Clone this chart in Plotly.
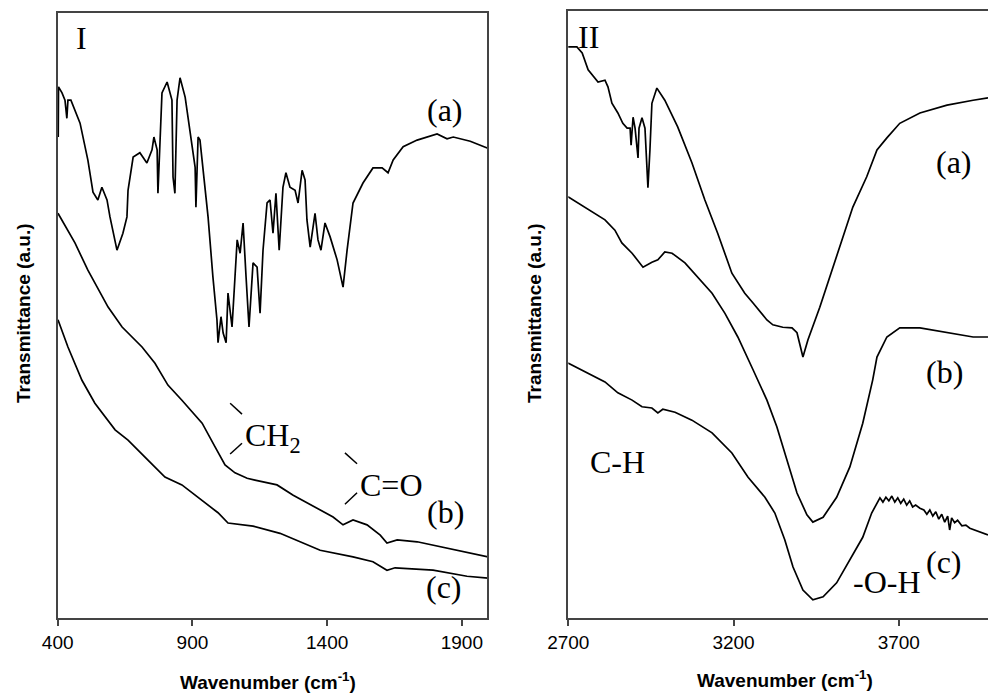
import plotly.graph_objects as go

# ---------------- Panel I (400-2000 cm-1) ----------------
wn_1a = [402, 403, 416, 427, 434, 438, 449, 483, 512, 531, 549, 564, 583, 594, 620, 642, 657, 661,
         680, 705, 731, 750, 757, 769, 772, 787, 806, 824, 828, 835, 843, 854, 873, 891, 910, 913,
         921, 928, 939, 958, 976, 991, 995, 1006, 1014, 1025, 1032, 1047, 1058, 1066, 1077, 1088,
         1099, 1110, 1125, 1140, 1151, 1162, 1177, 1188, 1199, 1210, 1222, 1236, 1247, 1262, 1281,
         1292, 1307, 1318, 1325, 1337, 1355, 1366, 1377, 1392, 1411, 1437, 1459, 1474, 1496, 1533,
         1570, 1604, 1626, 1645, 1682, 1734, 1808, 1845, 1868, 1931, 1994]
t_1a = [79.5, 87.8, 86.8, 85.6, 82.6, 85.6, 85.6, 81.8, 75.7, 70.4, 69.1, 71.2, 69.1, 66.3, 60.8, 63.6,
        66.3, 70.7, 76.2, 76.9, 75.2, 77.4, 79.5, 77.4, 70.2, 86.8, 88.6, 85.6, 72.9, 70.2, 85.6, 89.3,
        86.1, 80.2, 74.5, 67.9, 79.5, 79.0, 74.5, 66.3, 56.4, 49.3, 45.5, 49.8, 47.1, 45.5, 53.7, 48.1,
        56.4, 62.5, 60.3, 65.3, 56.4, 48.1, 58.7, 58.0, 50.4, 60.8, 68.6, 69.1, 63.6, 70.2, 60.8, 71.2,
        73.6, 71.2, 70.7, 68.6, 74.0, 72.4, 65.8, 61.3, 66.9, 62.5, 60.8, 65.3, 63.0, 59.2, 54.7, 60.8,
        68.6, 71.9, 74.4, 74.4, 73.6, 75.7, 77.9, 79.0, 80.0, 79.2, 79.5, 78.8, 77.7]

wn_1b = [401, 464, 512, 587, 639, 713, 761, 809, 861, 936, 984, 1021, 1058, 1103, 1132, 1214, 1274,
         1374, 1422, 1459, 1496, 1548, 1597, 1622, 1660, 1734, 1830, 1942, 1997]
t_1b = [66.9, 62.0, 57.5, 51.4, 48.1, 44.8, 42.1, 38.5, 36.0, 32.2, 28.3, 25.3, 24.0, 23.1, 22.8, 22.0,
        20.3, 17.9, 16.7, 15.4, 16.2, 15.4, 13.7, 12.4, 12.9, 12.6, 11.7, 10.7, 10.1]

wn_1c = [401, 438, 490, 538, 613, 661, 735, 798, 861, 936, 995, 1032, 1125, 1225, 1374, 1496, 1570,
         1622, 1652, 1793, 1919, 1997]
t_1c = [49.3, 44.8, 39.3, 35.5, 31.1, 29.4, 26.1, 23.3, 22.0, 19.5, 17.4, 15.7, 15.2, 14.0, 11.2, 10.1,
        9.3, 7.9, 8.3, 7.9, 6.9, 6.6]

# ---------------- Panel II (2700-4000 cm-1) ----------------
wn_2a = [2699, 2726, 2742, 2760, 2790, 2811, 2820, 2832, 2850, 2865, 2878, 2887, 2890, 2893, 2896, 2902,
         2911, 2914, 2923, 2932, 2938, 2941, 2947, 2953, 2968, 2992, 3031, 3074, 3113, 3152, 3195, 3234,
         3259, 3301, 3319, 3349, 3377, 3392, 3410, 3425, 3461, 3512, 3561, 3603, 3634, 3664, 3703, 3764,
         3846, 3925, 3970]
t_2a = [94.1, 94.1, 93.1, 90.3, 88.3, 88.6, 87.5, 84.8, 83.2, 81.5, 80.7, 80.7, 77.9, 80.7, 82.5, 80.7,
        75.8, 80.7, 82.4, 80.7, 73.8, 70.9, 77.1, 84.8, 87.3, 85.3, 80.9, 75.0, 68.9, 63.4, 56.8, 53.5,
        51.9, 49.1, 48.3, 47.9, 47.8, 47.0, 43.0, 45.8, 51.2, 59.5, 67.7, 72.7, 77.1, 79.1, 81.5, 83.2,
        84.5, 85.3, 85.7]

wn_2b = [2699, 2751, 2811, 2841, 2862, 2893, 2926, 2953, 2971, 2992, 3014, 3053, 3092, 3135, 3174, 3213,
         3259, 3301, 3331, 3361, 3392, 3422, 3440, 3471, 3512, 3552, 3591, 3621, 3634, 3664, 3703, 3764,
         3846, 3925, 3970]
t_2b = [69.4, 67.7, 65.6, 63.9, 61.8, 60.1, 57.8, 58.6, 59.0, 60.3, 60.1, 58.5, 56.2, 53.5, 50.2, 46.3,
        40.9, 35.9, 31.5, 26.0, 20.6, 17.0, 15.8, 16.6, 19.9, 24.9, 32.1, 39.2, 43.0, 46.3, 47.8, 47.8,
        47.0, 46.3, 46.3]

wn_2c = [2699, 2751, 2811, 2850, 2893, 2923, 2953, 2971, 2986, 3023, 3074, 3135, 3195, 3244, 3295, 3325,
         3355, 3380, 3410, 3440, 3471, 3512, 3552, 3591, 3618, 3634, 3643, 3652, 3661, 3670, 3679, 3688,
         3697, 3706, 3715, 3724, 3733, 3742, 3751, 3764, 3776, 3785, 3794, 3803, 3812, 3821, 3830, 3839,
         3848, 3854, 3860, 3869, 3878, 3891, 3903, 3915, 3939, 3970]
t_2c = [42.0, 40.5, 38.9, 37.1, 35.9, 34.8, 34.6, 33.8, 34.4, 33.9, 32.6, 30.5, 27.2, 23.2, 19.9, 17.3,
        12.9, 8.4, 4.6, 3.0, 3.5, 5.8, 9.6, 13.3, 17.3, 18.9, 19.8, 19.1, 19.9, 19.3, 20.1, 19.1,
        19.8, 18.9, 19.6, 18.6, 19.3, 18.3, 18.6, 18.1, 17.8, 17.1, 17.8, 16.8, 17.5, 16.3, 17.1, 15.8,
        16.8, 14.5, 16.5, 15.7, 16.1, 15.2, 15.3, 14.8, 14.3, 13.7]

ticks_1 = [400, 900, 1400, 1900]
ticks_2 = [2700, 3200, 3700]

LINE = dict(color="black", width=1.7)
fig = go.Figure()
for xs, ys in [(wn_1a, t_1a), (wn_1b, t_1b), (wn_1c, t_1c)]:
    fig.add_trace(go.Scatter(x=xs, y=ys, mode="lines", line=LINE, xaxis="x", yaxis="y",
                             showlegend=False, hoverinfo="skip"))
for xs, ys in [(wn_2a, t_2a), (wn_2b, t_2b), (wn_2c, t_2c)]:
    fig.add_trace(go.Scatter(x=xs, y=ys, mode="lines", line=LINE, xaxis="x2", yaxis="y2",
                             showlegend=False, hoverinfo="skip"))

AX = "#444444"
TICKFONT = dict(family="Liberation Sans, Arial", size=19, color="black")
common_x = dict(showline=True, linecolor=AX, linewidth=1.5, ticks="outside", ticklen=6,
                tickcolor=AX, tickwidth=1.5, showgrid=False, zeroline=False, tickfont=TICKFONT)
common_y = dict(showline=True, linecolor=AX, linewidth=1.5, ticks="", showticklabels=False,
                showgrid=False, zeroline=False)

fig.update_layout(
    width=988, height=693, margin=dict(l=0, r=0, t=0, b=0, autoexpand=False),
    paper_bgcolor="white", plot_bgcolor="white",
    xaxis=dict(domain=[0.0584, 0.4934], range=[400, 1995], tickvals=ticks_1, mirror=True,
               anchor="y", **common_x),
    yaxis=dict(domain=[0.1082, 0.9812], range=[0, 100], mirror=True, anchor="x", **common_y),
    xaxis2=dict(domain=[0.5752, 1.0], range=[2700, 3970], tickvals=ticks_2, mirror=True,
                anchor="y2", **common_x),
    yaxis2=dict(domain=[0.1082, 0.9841], range=[0, 100], anchor="x2", **common_y),
)

SERIF = dict(family="Liberation Serif, Times New Roman", size=32, color="black")
labels_1 = [("I", 490, 95.9, "center"), ("(a)", 1838, 84.0, "center"),
            ("CH<sub>2</sub>", 1088, 29.9, "left"), ("C=O", 1515, 22.0, "left"),
            ("(b)", 1838, 17.5, "center"), ("(c)", 1834, 5.1, "center")]
labels_2 = [("II", 2760, 95.7, "center"), ("(a)", 3867, 75.1, "center"),
            ("(b)", 3839, 40.5, "center"), ("(c)", 3836, 9.2, "center"),
            ("C-H", 2850, 25.7, "center"), ("-O-H", 3664, 5.9, "center")]
for txt, x, y, anc in labels_1:
    fig.add_annotation(text=txt, x=x, y=y, xref="x", yref="y", showarrow=False,
                       xanchor=anc, yanchor="middle", font=SERIF)
for txt, x, y, anc in labels_2:
    fig.add_annotation(text=txt, x=x, y=y, xref="x2", yref="y2", showarrow=False,
                       xanchor=anc, yanchor="middle", font=SERIF)

# little bracket marks next to the band labels
for x0, y0, x1, y1 in [(1040, 35.5, 1084, 33.7), (1040, 27.1, 1084, 28.9),
                       (1466, 27.3, 1511, 25.5), (1466, 18.8, 1511, 20.7)]:
    fig.add_shape(type="line", x0=x0, y0=y0, x1=x1, y1=y1, xref="x", yref="y",
                  line=dict(color="black", width=1.5))

TITLE = dict(family="Liberation Sans, Arial", size=19, color="black")
fig.add_annotation(text="<b>Wavenumber (cm<sup>-1</sup>)</b>", x=268/988, y=1 - 681/693,
                   xref="paper", yref="paper", showarrow=False, font=TITLE,
                   xanchor="center", yanchor="middle")
fig.add_annotation(text="<b>Wavenumber (cm<sup>-1</sup>)</b>", x=785/988, y=1 - 679/693,
                   xref="paper", yref="paper", showarrow=False, font=TITLE,
                   xanchor="center", yanchor="middle")
fig.add_annotation(text="<b>Transmittance (a.u.)</b>", x=23/988, y=1 - 313/693,
                   xref="paper", yref="paper", showarrow=False, font=TITLE, textangle=-90,
                   xanchor="center", yanchor="middle")
fig.add_annotation(text="<b>Transmittance (a.u.)</b>", x=534/988, y=1 - 313/693,
                   xref="paper", yref="paper", showarrow=False, font=TITLE, textangle=-90,
                   xanchor="center", yanchor="middle")

fig.write_html("out.html")
